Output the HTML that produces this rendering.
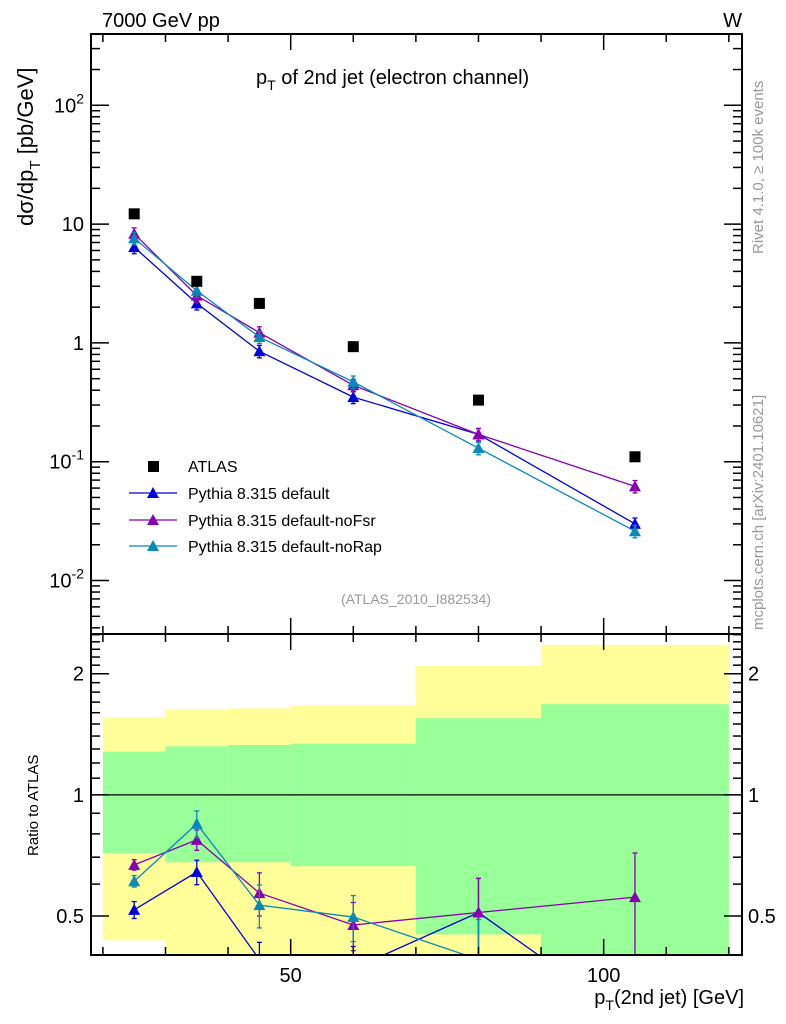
<!DOCTYPE html>
<html><head><meta charset="utf-8">
<style>
html,body{margin:0;padding:0;background:#fff;width:786px;height:1024px;overflow:hidden;position:relative;}
svg{display:block;font-family:"Liberation Sans",sans-serif;}
</style></head>
<body>
<svg id="chart" style="position:absolute;left:0;top:0" width="786" height="1024" viewBox="0 0 786 1024" xmlns="http://www.w3.org/2000/svg"></svg>
<script>
const binEdges=[20,30,40,50,70,90,120];
const xCenters=[25,35,45,60,80,105];
const atlas=[12.2,3.3,2.15,0.93,0.33,0.11];
const pyDefault=[6.4,2.15,0.85,0.35,0.17,0.030];
const pyNoFsr=[8.3,2.5,1.22,0.44,0.17,0.062];
const pyNoRap=[7.6,2.75,1.12,0.47,0.13,0.026];
const ratioDefault=[0.518,0.643,0.39,0.37,0.51,0.27];
const ratioDefaultErr=[0.025,0.045,0.04,0.05,0.11,0.1];
const ratioNoFsr=[0.67,0.773,0.57,0.475,0.51,0.557];
const ratioNoFsrErr=[0.02,0.045,0.07,0.065,0.11,0.16];
const ratioNoRap=[0.61,0.847,0.532,0.497,0.39,0.24];
const ratioNoRapErr=[0.02,0.065,0.065,0.065,0.1,0.1];
const bandGreenHi=[1.28,1.32,1.33,1.34,1.55,1.68];
const bandGreenLo=[0.717,0.68,0.68,0.665,0.45,0.3];
const bandYellowHi=[1.56,1.63,1.64,1.67,2.09,2.36];
const bandYellowLo=[0.435,0.3,0.3,0.3,0.3,0.3];
const mainTicks=[0.01,0.1,1,10,100];
const mainTickLabels=["10^-2","10^-1","1","10","10^2"];
const ratioTicks=[0.5,1,2];
const ratioTickLabels=["0.5","1","2"];
const xTicks=[50,100];
const xTickLabels=["50","100"];

const NS="http://www.w3.org/2000/svg";
const svg=document.getElementById('chart');
const L=91,R=742,T=34,MB=634,RB=955;
const X0=18.1,X1=122.1;
const sx=v=>L+(v-X0)/(X1-X0)*(R-L);
const mLo=-2.45,mHi=2.6;
const sy=v=>MB-(Math.log10(v)-mLo)/(mHi-mLo)*(MB-T);
const rLo=Math.log10(0.4),rHi=Math.log10(2.51);
const ry=v=>RB-(Math.log10(v)-rLo)/(rHi-rLo)*(RB-MB);
function el(tag,attrs,parent){const e=document.createElementNS(NS,tag);for(const k in attrs)e.setAttribute(k,attrs[k]);(parent||svg).appendChild(e);return e;}
function txt(x,y,s,size,anchor,fill,parent){const t=el('text',{x:x,y:y,'font-size':size,'text-anchor':anchor||'start',fill:fill||'#000'},parent);t.textContent=s;return t;}

const defs=el('defs',{});
const c1=el('clipPath',{id:'cm'},defs);el('rect',{x:L,y:T,width:R-L,height:MB-T},c1);
const c2=el('clipPath',{id:'cr'},defs);el('rect',{x:L,y:MB,width:R-L,height:RB-MB},c2);

const gBands=el('g',{'clip-path':'url(#cr)'});

for(let i=0;i<xCenters.length;i++){
  const x0=sx(binEdges[i]),x1=sx(binEdges[i+1]);
  const y=el('rect',{x:x0,y:ry(bandYellowHi[i]),width:x1-x0,height:ry(bandYellowLo[i])-ry(bandYellowHi[i]),fill:'#ffff99'},gBands);
  
  const g=el('rect',{x:x0,y:ry(bandGreenHi[i]),width:x1-x0,height:ry(bandGreenLo[i])-ry(bandGreenHi[i]),fill:'#99ff99'},gBands);
  
}
el('line',{x1:L,x2:R,y1:ry(1),y2:ry(1),stroke:'#000','stroke-width':1.2});

function tri(x,y,c,parent){return el('polygon',{points:`${x-6},${y+5} ${x+6},${y+5} ${x},${y-6}`,fill:c},parent);}
function series(vals,errs,c,scale,clip,name){
  const g=el('g',{'clip-path':clip});
  
  el('polyline',{points:xCenters.map((x,i)=>sx(x)+','+scale(vals[i])).join(' '),fill:'none',stroke:c,'stroke-width':1.3},g);
  xCenters.forEach((x,i)=>{
    const e=errs?errs[i]:vals[i]*0.12;
    const px=sx(x),y0=scale(vals[i]+e),y1=scale(Math.max(vals[i]-e,1e-6));
    el('line',{x1:px,x2:px,y1:y0,y2:y1,stroke:c,'stroke-width':1.3},g);
    el('line',{x1:px-2.5,x2:px+2.5,y1:y0,y2:y0,stroke:c,'stroke-width':1.3},g);
    el('line',{x1:px-2.5,x2:px+2.5,y1:y1,y2:y1,stroke:c,'stroke-width':1.3},g);
    const m=tri(px,scale(vals[i]),c,g);
    
  });
}
const cDef='#0000dd',cFsr='#8800b0',cRap='#0a88b8';
series(pyDefault,null,cDef,sy,'url(#cm)','main-default');
series(pyNoFsr,null,cFsr,sy,'url(#cm)','main-nofsr');
series(pyNoRap,null,cRap,sy,'url(#cm)','main-norap');
series(ratioDefault,ratioDefaultErr,cDef,ry,'url(#cr)','ratio-default');
series(ratioNoFsr,ratioNoFsrErr,cFsr,ry,'url(#cr)','ratio-nofsr');
series(ratioNoRap,ratioNoRapErr,cRap,ry,'url(#cr)','ratio-norap');
const ga=el('g',{});
xCenters.forEach((x,i)=>{const r=el('rect',{x:sx(x)-5.5,y:sy(atlas[i])-5.5,width:11,height:11,fill:'#000'},ga);
  });

el('rect',{x:L,y:T,width:R-L,height:MB-T,fill:'none',stroke:'#000','stroke-width':2});
el('rect',{x:L,y:MB,width:R-L,height:RB-MB,fill:'none',stroke:'#000','stroke-width':2});

for(let v=20;v<=120;v+=10){
  const major=(v%50===0),len=major?16:8,px=sx(v);
  [[T,1],[MB,1],[MB,-1],[RB,-1]].forEach(([y,d])=>el('line',{x1:px,x2:px,y1:y,y2:y+d*len,stroke:'#000','stroke-width':1.5}));
}
xTicks.forEach((v,i)=>txt(sx(v),982,xTickLabels[i],20,'middle'));
for(let e=-3;e<=2;e++){for(let k=1;k<10;k++){const v=k*Math.pow(10,e);const y=sy(v);if(y<T||y>MB)continue;
  const len=k===1?18:9;el('line',{x1:L,x2:L+len,y1:y,y2:y,stroke:'#000','stroke-width':1.5});el('line',{x1:R,x2:R-len,y1:y,y2:y,stroke:'#000','stroke-width':1.5});}}
mainTicks.forEach((v,i)=>{const y=sy(v)+7;const s=mainTickLabels[i];
  if(s.indexOf('^')>0){const [b,p]=s.split('^');const t=txt(84,y,'',20,'end');
    const t1=document.createElementNS(NS,'tspan');t1.textContent=b;t.appendChild(t1);
    const t2=document.createElementNS(NS,'tspan');t2.setAttribute('dy','-9');t2.setAttribute('font-size','14');t2.textContent=p;t.appendChild(t2);}
  else txt(84,y,s,20,'end');});
[0.4,0.5,0.6,0.7,0.8,0.9,1,1.1,1.2,1.3,1.4,1.5,1.6,1.7,1.8,1.9,2,2.1,2.2,2.3,2.4,2.5].forEach(v=>{const y=ry(v);if(y<MB||y>RB)return;
  const len=(v===0.5||v===1||v===2)?18:9;el('line',{x1:L,x2:L+len,y1:y,y2:y,stroke:'#000','stroke-width':1.5});el('line',{x1:R,x2:R-len,y1:y,y2:y,stroke:'#000','stroke-width':1.5});});
ratioTicks.forEach((v,i)=>{txt(84,ry(v)+7,ratioTickLabels[i],20,'end');txt(748,ry(v)+7,ratioTickLabels[i],20,'start');});
</script>
<svg style="position:absolute;left:0;top:0" width="786" height="1024" xmlns="http://www.w3.org/2000/svg" font-family="Liberation Sans, sans-serif">
<text x="102" y="27" font-size="20">7000 GeV pp</text>
<text x="742" y="27" font-size="20" text-anchor="end">W</text>
<text x="256" y="84" font-size="20">p<tspan dy="6" font-size="14">T</tspan><tspan dy="-6"> of 2nd jet (electron channel)</tspan></text>
<text transform="translate(33,226) rotate(-90)" font-size="22">dσ/dp<tspan dy="7" font-size="15">T</tspan><tspan dy="-7">  [pb/GeV]</tspan></text>
<text transform="translate(38,856) rotate(-90)" font-size="15">Ratio to ATLAS</text>
<text x="744" y="1004" font-size="20" text-anchor="end">p<tspan dy="6" font-size="14">T</tspan><tspan dy="-6">(2nd jet) [GeV]</tspan></text>
<text x="416" y="604" font-size="14" fill="#999" text-anchor="middle">(ATLAS_2010_I882534)</text>
<text transform="translate(763,254) rotate(-90)" font-size="15" fill="#999">Rivet 4.1.0, ≥ 100k events</text>
<text transform="translate(763,630) rotate(-90)" font-size="15" fill="#999">mcplots.cern.ch [arXiv:2401.10621]</text>
<g>
 <rect x="148" y="461" width="11" height="11" fill="#000"/>
 <text x="188" y="472" font-size="16">ATLAS</text>
 <line x1="129" x2="177" y1="493" y2="493" stroke="#0000dd" stroke-width="1.3"/>
 <polygon points="147,498 159,498 153,487" fill="#0000dd"/>
 <text x="188" y="499" font-size="16">Pythia 8.315 default</text>
 <line x1="129" x2="177" y1="520" y2="520" stroke="#8800b0" stroke-width="1.3"/>
 <polygon points="147,525 159,525 153,514" fill="#8800b0"/>
 <text x="188" y="526" font-size="16">Pythia 8.315 default-noFsr</text>
 <line x1="129" x2="177" y1="546" y2="546" stroke="#0a88b8" stroke-width="1.3"/>
 <polygon points="147,551 159,551 153,540" fill="#0a88b8"/>
 <text x="188" y="552" font-size="16">Pythia 8.315 default-noRap</text>
</g>
</svg>
</body></html>
